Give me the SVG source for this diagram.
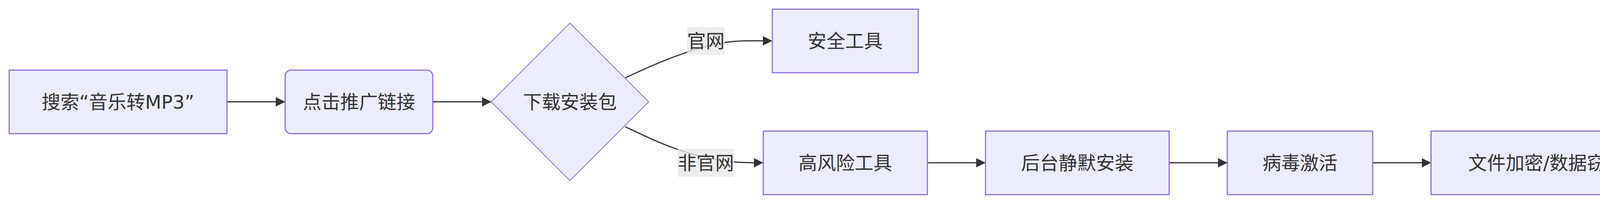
<svg xmlns="http://www.w3.org/2000/svg" width="4277" height="522" viewBox="0 0 4277 522">
<style>
.node rect, .node polygon { fill: #ECECFF; stroke: #9370DB; stroke-width: 3; }
.node polygon { stroke-width: 2; }
.node text, .label text { font-family: "DejaVu Sans", "Noto Sans CJK SC", sans-serif; font-size: 48px; fill: #333333; text-anchor: middle; dominant-baseline: central; }
.edge { fill: none; stroke: #333333; stroke-width: 3; marker-end: url(#arrow); }
.label rect { fill: rgba(232,232,232,0.8); stroke: none; }
</style>
<defs>
<marker id="arrow" viewBox="0 0 10 10" refX="10" refY="5" markerUnits="userSpaceOnUse" markerWidth="24" markerHeight="24" orient="auto">
<path d="M0,0 L10,5 L0,10 z" fill="#333333"/>
</marker>
</defs>
<rect width="4277" height="522" fill="#ffffff"/>
<g id="edges">
<path class="edge" d="M581,260.5 L730,260.5"/>
<path class="edge" d="M1108,260.5 L1258,260.5"/>
<path class="edge" d="M1600,199.5 C1690,157 1780,120 1860,108 C1900,103 1930,104.5 1977,104.5"/>
<path class="edge" d="M1600,324 C1680,362 1760,402 1880,414.5 C1910,416.5 1930,416.5 1954,416.5"/>
<path class="edge" d="M2374,416.5 L2523,416.5"/>
<path class="edge" d="M2993,416.5 L3142,416.5"/>
<path class="edge" d="M3514,416.5 L3663.5,416.5"/>
</g>
<g id="edge-labels">
<g class="label" id="label-official">
<rect x="1759" y="69.5" width="96" height="71"/>
<text x="1807" y="105">官网</text>
</g>
<g class="label" id="label-unofficial">
<rect x="1735" y="381" width="144" height="71.5"/>
<text x="1807" y="416.5">非官网</text>
</g>
</g>
<g class="node" id="node-search">
<rect x="23.5" y="179.5" width="557.5" height="162.5"/>
<text x="302" y="260.5">搜索“音乐转MP3”</text>
</g>
<g class="node" id="node-click">
<rect x="730" y="179.5" width="378" height="162.5" rx="15" ry="15"/>
<text x="919" y="260.5">点击推广链接</text>
</g>
<g class="node" id="node-download">
<polygon points="1459,59 1660.5,260.5 1459,462 1257.5,260.5"/>
<text x="1459" y="260.5">下载安装包</text>
</g>
<g class="node" id="node-safe">
<rect x="1977" y="23.5" width="373.5" height="162.5"/>
<text x="2163.75" y="104.75">安全工具</text>
</g>
<g class="node" id="node-risk">
<rect x="1954" y="335.5" width="420" height="162.5"/>
<text x="2164" y="416.75">高风险工具</text>
</g>
<g class="node" id="node-silent">
<rect x="2523" y="335.5" width="470" height="162.5"/>
<text x="2758" y="416.75">后台静默安装</text>
</g>
<g class="node" id="node-virus">
<rect x="3142" y="335.5" width="372" height="162.5"/>
<text x="3328" y="416.75">病毒激活</text>
</g>
<g class="node" id="node-encrypt">
<rect x="3663.5" y="335.5" width="590" height="162.5"/>
<text x="3958.5" y="416.75">文件加密/数据窃取</text>
</g>
</svg>
